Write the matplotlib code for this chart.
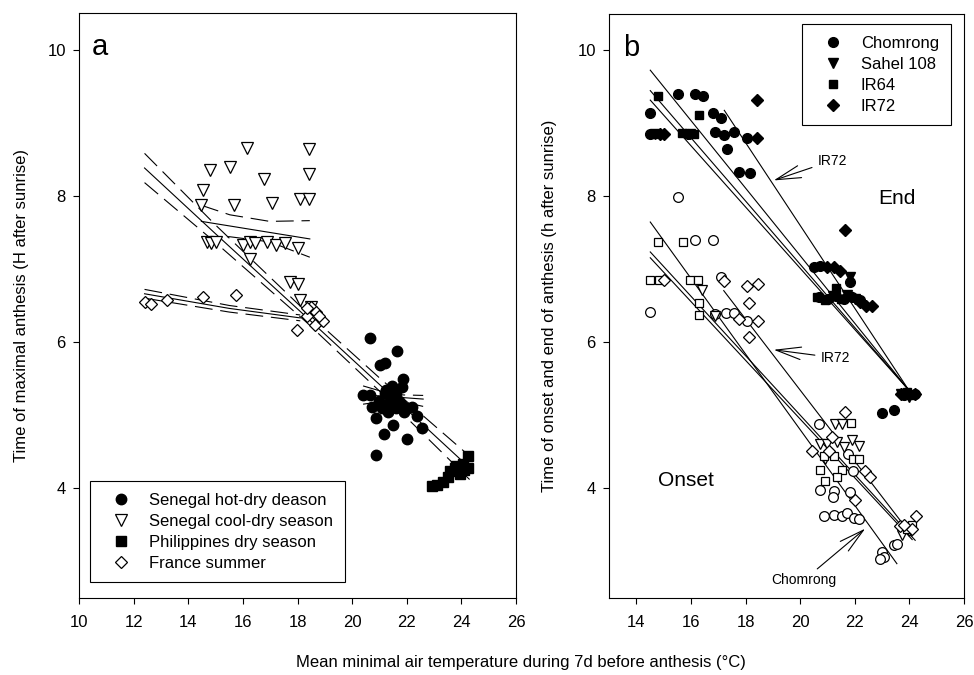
import numpy as np
import matplotlib
matplotlib.use("Agg")
import matplotlib.pyplot as plt

plt.rcParams['font.family'] = ['Liberation Sans', 'DejaVu Sans']
plt.rcParams['font.size'] = 12

# ---- panel a data ----
hot_x = [20.66, 21.63, 21.20, 21.01, 21.85, 21.81, 20.40, 20.65, 20.71, 22.18, 22.36, 20.87, 21.48,
         21.16, 22.02, 22.54, 20.87, 21.0, 21.2, 21.3, 21.4, 21.5, 21.6, 21.7, 21.8, 21.5, 21.3, 21.9,
         21.1, 21.6, 22.0, 21.25, 21.45]
hot_y = [6.06, 5.88, 5.71, 5.68, 5.50, 5.38, 5.27, 5.27, 5.11, 5.11, 4.99, 4.96, 4.86,
         4.74, 4.67, 4.82, 4.46, 5.2, 5.3, 5.15, 5.25, 5.2, 5.1, 5.2, 5.15, 5.3, 5.05, 5.05,
         5.1, 5.3, 5.1, 5.35, 5.4]

cool_x = [16.15, 18.41, 14.79, 15.52, 18.41, 16.78, 14.54, 14.48, 15.68, 17.08, 18.08, 18.41, 14.67,
          14.85, 15.03, 16.01, 16.25, 16.44, 16.89, 17.20, 17.53, 18.02, 16.25, 17.72, 18.02, 18.08, 18.51]
cool_y = [8.65, 8.64, 8.35, 8.40, 8.30, 8.23, 8.08, 7.87, 7.87, 7.90, 7.95, 7.95, 7.37,
          7.35, 7.37, 7.33, 7.37, 7.35, 7.37, 7.33, 7.35, 7.29, 7.14, 6.82, 6.79, 6.57, 6.48]

phil_x = [22.91, 23.09, 23.33, 23.52, 23.58, 23.82, 24.07, 24.23, 24.25, 23.76, 23.95, 24.10]
phil_y = [4.03, 4.05, 4.08, 4.15, 4.24, 4.31, 4.33, 4.44, 4.28, 4.28, 4.20, 4.25]

fra_x = [12.41, 12.65, 13.22, 14.54, 15.73, 17.99, 18.33, 18.51, 18.63, 18.94, 18.69, 18.33, 18.80]
fra_y = [6.55, 6.52, 6.58, 6.62, 6.64, 6.17, 6.36, 6.48, 6.23, 6.29, 6.41, 6.47, 6.35]

# fitted lines (x, y)
all_fit_x = [12.4, 15.0, 18.3, 21.0, 24.3]
all_fit_y = [8.38, 7.48, 6.35, 5.42, 4.28]
all_up_y = [8.58, 7.60, 6.42, 5.51, 4.44]
all_lo_y = [8.18, 7.36, 6.28, 5.33, 4.12]

cool_fit_x = [14.48, 18.45]
cool_fit_y = [7.65, 7.41]
cool_band_x = [14.48, 15.52, 16.98, 18.45]
cool_up_y = [7.87, 7.74, 7.65, 7.66]
cool_lo_y = [7.44, 7.44, 7.37, 7.16]

fra_fit_x = [12.4, 15.5, 18.1]
fra_fit_y = [6.66, 6.46, 6.33]
fra_up_y = [6.72, 6.50, 6.37]
fra_lo_y = [6.60, 6.41, 6.29]

hot_fit_x = [20.4, 21.5, 22.6]
hot_fit_y = [5.28, 5.25, 5.22]
hot_up_y = [5.40, 5.28, 5.27]
hot_lo_y = [5.15, 5.21, 5.12]

# ---- panel b data ----
cv_names = ["Chomrong", "Sahel 108", "IR64", "IR72"]
cv_markers = ["o", "v", "s", "D"]

end_x = {
    "Chomrong": [14.51, 14.50, 15.51, 16.16, 16.44, 16.81, 17.11, 16.89, 17.20, 17.56, 17.32, 17.75,
                 18.15, 18.05, 15.90, 20.49, 20.73, 21.81, 23.00, 23.45, 23.80, 24.20, 20.70, 21.00,
                 21.30, 21.60, 21.90, 22.20],
    "Sahel 108": [14.70, 15.95, 21.83, 21.20, 21.70, 22.00, 23.70, 24.00],
    "IR64": [14.78, 16.28, 14.60, 15.67, 16.10, 21.32, 20.60, 20.90, 21.50, 23.90, 24.10, 21.80],
    "IR72": [18.42, 18.42, 21.65, 20.98, 21.22, 21.47, 22.20, 22.40, 22.62, 15.00, 24.20, 23.70, 14.85],
}
end_y = {
    "Chomrong": [9.15, 8.86, 9.41, 9.40, 9.37, 9.15, 9.07, 8.89, 8.84, 8.89, 8.65, 8.33,
                 8.32, 8.80, 8.86, 7.03, 7.05, 6.83, 5.04, 5.07, 5.28, 5.30, 6.62, 6.60,
                 6.64, 6.60, 6.62, 6.58],
    "Sahel 108": [8.86, 8.86, 6.90, 6.63, 6.65, 6.60, 5.30, 5.25],
    "IR64": [9.37, 9.12, 8.86, 8.87, 8.86, 6.75, 6.62, 6.58, 6.60, 5.32, 5.28, 6.63],
    "IR72": [9.32, 8.80, 7.54, 7.03, 7.03, 6.98, 6.55, 6.50, 6.50, 8.86, 5.30, 5.30, 8.86],
}
onset_x = {
    "Chomrong": [15.51, 16.16, 16.81, 14.51, 17.11, 16.89, 17.29, 17.56, 18.05, 20.67, 21.74, 21.95,
                 20.71, 21.22, 21.20, 21.83, 20.88, 21.25, 21.53, 21.71, 21.96, 22.17, 22.99, 23.05,
                 22.93, 23.42, 23.54],
    "Sahel 108": [16.40, 16.89, 21.28, 21.53, 20.73, 20.98, 21.34, 21.59, 21.89, 22.14, 20.90, 23.73, 24.00],
    "IR64": [14.78, 15.71, 14.51, 14.84, 15.98, 16.25, 16.28, 16.28, 21.85, 20.86, 21.25, 21.93, 22.16,
             20.72, 21.53, 21.34, 20.89, 23.90, 24.10],
    "IR72": [15.02, 17.20, 18.05, 18.44, 18.11, 17.77, 18.44, 18.11, 21.65, 21.16, 20.43, 21.04, 22.38,
             22.56, 22.01, 24.25, 23.66, 24.10, 23.80],
}
onset_y = {
    "Chomrong": [7.99, 7.41, 7.41, 6.42, 6.90, 6.39, 6.40, 6.40, 6.29, 4.89, 4.47, 4.24,
                 3.98, 3.97, 3.89, 3.95, 3.62, 3.64, 3.62, 3.67, 3.59, 3.58, 3.13, 3.06,
                 3.04, 3.22, 3.24],
    "Sahel 108": [6.72, 6.36, 4.88, 4.88, 4.61, 4.61, 4.63, 4.57, 4.66, 4.58, 4.40, 3.36, 3.42],
    "IR64": [7.37, 7.37, 6.86, 6.86, 6.85, 6.85, 6.54, 6.38, 4.90, 4.44, 4.45, 4.41, 4.40,
             4.26, 4.26, 4.16, 4.10, 3.45, 3.50],
    "IR72": [6.86, 6.84, 6.78, 6.80, 6.54, 6.32, 6.29, 6.07, 5.05, 4.71, 4.52, 4.51, 4.24,
             4.16, 3.84, 3.62, 3.49, 3.45, 3.50],
}

# regression lines in panel b, (x0, y0, x1, y1)
end_lines = [(14.51, 9.73, 23.97, 5.35), (14.51, 9.45, 23.97, 5.35),
             (14.51, 9.32, 23.97, 5.35), (17.22, 9.18, 23.97, 5.35)]
onset_lines = [(14.51, 7.65, 23.54, 2.97), (14.51, 7.24, 24.21, 3.29),
               (14.51, 7.16, 24.10, 3.30), (17.20, 6.71, 24.10, 3.35)]

xlabel = "Mean minimal air temperature during 7d before anthesis (\u00b0C)"

fig = plt.figure(figsize=(9.74, 6.75), dpi=100)
ax1 = fig.add_axes([0.0811, 0.1141, 0.4487, 0.8667])
ax2 = fig.add_axes([0.6253, 0.1141, 0.3645, 0.8652])

dash = (0, (16, 7))
lw = 0.8

# ---------- panel a ----------
ax1.plot(all_fit_x, all_fit_y, color="black", lw=lw)
ax1.plot(all_fit_x, all_up_y, color="black", lw=lw, ls=dash)
ax1.plot(all_fit_x, all_lo_y, color="black", lw=lw, ls=dash)
ax1.plot(cool_fit_x, cool_fit_y, color="black", lw=lw)
ax1.plot(cool_band_x, cool_up_y, color="black", lw=lw, ls=dash)
ax1.plot(cool_band_x, cool_lo_y, color="black", lw=lw, ls=dash)
ax1.plot(fra_fit_x, fra_fit_y, color="black", lw=lw)
ax1.plot(fra_fit_x, fra_up_y, color="black", lw=lw, ls=dash)
ax1.plot(fra_fit_x, fra_lo_y, color="black", lw=lw, ls=dash)
ax1.plot(hot_fit_x, hot_fit_y, color="black", lw=lw)
ax1.plot(hot_fit_x, hot_up_y, color="black", lw=lw, ls=dash)
ax1.plot(hot_fit_x, hot_lo_y, color="black", lw=lw, ls=dash)

ax1.plot(hot_x, hot_y, "o", ms=7.5, mfc="black", mec="black", label="Senegal hot-dry deason")
ax1.plot(cool_x, cool_y, "v", ms=8, mfc="white", mec="black", mew=0.9, label="Senegal cool-dry season")
ax1.plot(phil_x, phil_y, "s", ms=6.5, mfc="black", mec="black", label="Philippines dry season")
ax1.plot(fra_x, fra_y, "D", ms=6.5, mfc="white", mec="black", mew=0.9, label="France summer")

ax1.set_xlim(10, 26)
ax1.set_ylim(2.5, 10.5)
ax1.set_xticks(np.arange(10, 27, 2))
ax1.set_yticks([4, 6, 8, 10])
ax1.set_ylabel("Time of maximal anthesis (H after sunrise)")
ax1.yaxis.set_label_coords(-0.114, 0.5)
ax1.text(0.03, 0.965, "a", transform=ax1.transAxes, fontsize=21, va="top", ha="left")
leg1 = ax1.legend(loc="lower left", bbox_to_anchor=(0.025, 0.027), borderaxespad=0,
                  fontsize=12, handlelength=2.3, handletextpad=0.55, borderpad=0.7,
                  labelspacing=0.36, fancybox=False, framealpha=1, edgecolor="black")
leg1.get_frame().set_linewidth(0.8)

# ---------- panel b ----------
for x0, y0, x1, y1 in end_lines + onset_lines:
    ax2.plot([x0, x1], [y0, y1], color="black", lw=lw)

for name, mk in zip(cv_names, cv_markers):
    ms = 6 if mk in ("s", "D") else 7
    ax2.plot(end_x[name], end_y[name], mk, ms=ms, mfc="black", mec="black", label=name)
    ax2.plot(onset_x[name], onset_y[name], mk, ms=ms, mfc="white", mec="black", mew=0.9)

arrow = dict(arrowstyle="->,head_length=1.8,head_width=0.45", color="black", lw=0.8,
             shrinkA=2, shrinkB=0)
ax2.annotate("IR72", xy=(19.03, 8.22), xytext=(21.17, 8.49), fontsize=10,
             ha="center", va="center", arrowprops=arrow)
ax2.annotate("IR72", xy=(19.03, 5.90), xytext=(21.28, 5.79), fontsize=10,
             ha="center", va="center", arrowprops=arrow)
ax2.annotate("Chomrong", xy=(22.38, 3.45), xytext=(20.12, 2.74), fontsize=10,
             ha="center", va="center", arrowprops=arrow)
ax2.text(23.54, 7.97, "End", fontsize=15, ha="center", va="center")
ax2.text(15.83, 4.11, "Onset", fontsize=15, ha="center", va="center")

ax2.set_xlim(13, 26)
ax2.set_ylim(2.5, 10.5)
ax2.set_xticks(np.arange(14, 27, 2))
ax2.set_yticks([4, 6, 8, 10])
ax2.set_ylabel("Time of onset and end of anthesis (h after sunrise)")
ax2.yaxis.set_label_coords(-0.147, 0.5)
ax2.text(0.04, 0.965, "b", transform=ax2.transAxes, fontsize=21, va="top", ha="left")
leg2 = ax2.legend(loc="upper right", bbox_to_anchor=(0.9625, 0.983), borderaxespad=0,
                  fontsize=12, handlelength=2.3, handletextpad=0.55, borderpad=0.7,
                  labelspacing=0.36, fancybox=False, framealpha=1, edgecolor="black")
leg2.get_frame().set_linewidth(0.8)

for ax in (ax1, ax2):
    ax.tick_params(direction="out", length=4.5, width=0.8, labelsize=12)
    ax.tick_params(axis="y", pad=5)
    ax.tick_params(axis="x", pad=8)
    for sp in ax.spines.values():
        sp.set_linewidth(0.8)

fig.text(521 / 974, 1 - 662 / 675, xlabel, ha="center", va="center", fontsize=12)

fig.savefig("out.png", dpi=100)
